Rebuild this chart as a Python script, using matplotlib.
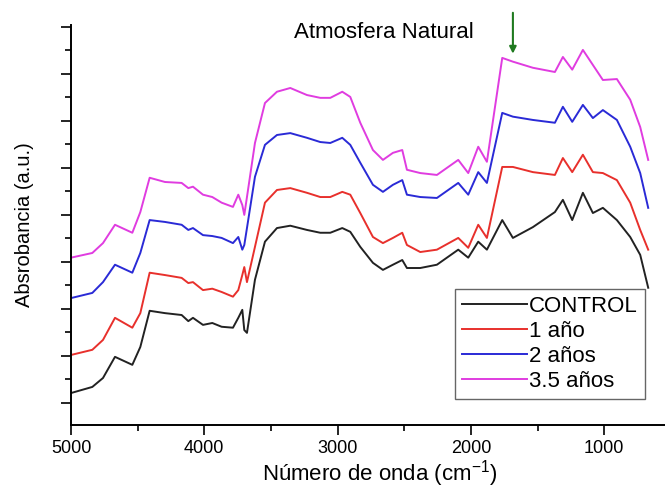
import numpy as np
import matplotlib
matplotlib.use('Agg')
import matplotlib.pyplot as plt
from matplotlib.ticker import MultipleLocator, NullFormatter

plt.rcParams['font.family'] = ['Liberation Sans', 'DejaVu Sans']
plt.rcParams['mathtext.fontset'] = 'custom'
plt.rcParams['mathtext.rm'] = 'Liberation Sans'

# numero de onda (cm-1)
wavenumber = [5000, 4840, 4760, 4670, 4540, 4480, 4410, 4295, 4170, 4120,
              4085, 4010, 3940, 3870, 3785, 3745, 3715, 3700, 3680, 3620,
              3545, 3455, 3355, 3230, 3130, 3055, 2965, 2905, 2830, 2735,
              2660, 2585, 2515, 2480, 2380, 2255, 2095, 2020, 1945, 1880,
              1765, 1685, 1535, 1370, 1310, 1240, 1160, 1085, 1010, 905,
              805, 730, 670]

control = [0.21, 0.34, 0.53, 0.98, 0.81, 1.19, 1.96, 1.91, 1.87, 1.74,
           1.81, 1.66, 1.70, 1.62, 1.60, 1.81, 1.98, 1.55, 1.49, 2.62,
           3.43, 3.72, 3.77, 3.68, 3.62, 3.62, 3.72, 3.64, 3.32, 2.98,
           2.83, 2.94, 3.04, 2.87, 2.87, 2.94, 3.26, 3.09, 3.43, 3.26,
           3.89, 3.51, 3.74, 4.06, 4.32, 3.89, 4.47, 4.04, 4.15, 3.89,
           3.53, 3.15, 2.45]

ano_1 = [1.02, 1.13, 1.34, 1.81, 1.60, 1.91, 2.77, 2.72, 2.66, 2.55,
         2.57, 2.40, 2.43, 2.36, 2.26, 2.40, 2.72, 2.89, 2.57, 3.32,
         4.26, 4.53, 4.57, 4.47, 4.38, 4.38, 4.49, 4.43, 4.04, 3.53,
         3.40, 3.51, 3.62, 3.36, 3.21, 3.26, 3.51, 3.30, 3.79, 3.51,
         5.02, 5.02, 4.91, 4.85, 5.21, 4.91, 5.28, 4.91, 4.89, 4.74,
         4.26, 3.68, 3.26]

anos_2 = [2.23, 2.34, 2.57, 2.94, 2.77, 3.19, 3.89, 3.85, 3.79, 3.68,
          3.72, 3.57, 3.55, 3.51, 3.40, 3.53, 3.26, 3.36, 3.72, 4.81,
          5.49, 5.70, 5.74, 5.64, 5.55, 5.53, 5.64, 5.49, 5.11, 4.64,
          4.49, 4.64, 4.74, 4.43, 4.38, 4.36, 4.68, 4.43, 4.91, 4.68,
          6.17, 6.09, 6.02, 5.96, 6.30, 5.98, 6.34, 6.06, 6.23, 6.02,
          5.45, 4.89, 4.15]

anos_35 = [3.09, 3.19, 3.40, 3.79, 3.62, 4.06, 4.79, 4.70, 4.68, 4.57,
           4.60, 4.43, 4.38, 4.26, 4.17, 4.43, 4.21, 4.00, 4.38, 5.53,
           6.38, 6.62, 6.70, 6.55, 6.49, 6.49, 6.62, 6.51, 5.96, 5.38,
           5.17, 5.32, 5.38, 4.96, 4.89, 4.85, 5.17, 4.89, 5.45, 5.13,
           7.34, 7.26, 7.13, 7.04, 7.36, 7.09, 7.51, 7.19, 6.87, 6.89,
           6.45, 5.87, 5.17]

labels = ['CONTROL', '1 año', '2 años', '3.5 años']
colors = ['#222222', '#e8302c', '#2a2ad6', '#e03ce0']

fig = plt.figure(figsize=(6.65, 4.92), dpi=100)
ax = fig.add_axes([71 / 665, 67 / 492, 594 / 665, 400 / 492])

for serie, lab, col in zip([control, ano_1, anos_2, anos_35], labels, colors):
    ax.plot(wavenumber, serie, color=col, lw=1.4, label=lab)

ax.set_xlim(5000, 544)
ax.set_ylim(-0.47, 8.04)

ax.xaxis.set_major_locator(MultipleLocator(1000))
ax.xaxis.set_minor_locator(MultipleLocator(500))
ax.yaxis.set_major_locator(MultipleLocator(1))
ax.yaxis.set_minor_locator(MultipleLocator(0.5))
ax.yaxis.set_major_formatter(NullFormatter())
ax.tick_params(axis='both', which='major', length=7, width=1.2, labelsize=13)
ax.tick_params(axis='both', which='minor', length=4, width=1.2)
ax.tick_params(axis='x', pad=4)

for s in ['top', 'right']:
    ax.spines[s].set_visible(False)
for s in ['left', 'bottom']:
    ax.spines[s].set_linewidth(1.4)

ax.set_xlabel('Número de onda (cm$^{\\mathregular{-1}}$)', fontsize=16)
ax.xaxis.set_label_coords(0.52, -0.082)
ax.set_ylabel('Absrobancia (a.u.)', fontsize=14.5, labelpad=16)

ax.text(2650, 7.87, 'Atmosfera Natural', fontsize=16, ha='center', va='center')
ax.annotate('', xy=(1685, 7.43), xytext=(1685, 8.3),
            arrowprops=dict(arrowstyle='-|>', color='#1f7a1f', lw=1.5,
                            mutation_scale=10, shrinkA=0, shrinkB=0),
            annotation_clip=False)

leg = ax.legend(loc='lower right', bbox_to_anchor=(0.966, 0.065), fontsize=16,
                frameon=True, fancybox=False, framealpha=1, edgecolor='#666666',
                handlelength=2.9, handletextpad=0.1, labelspacing=0.18,
                borderpad=0.32, borderaxespad=0)
leg.get_frame().set_linewidth(1.0)

fig.savefig('out.png', dpi=100)
